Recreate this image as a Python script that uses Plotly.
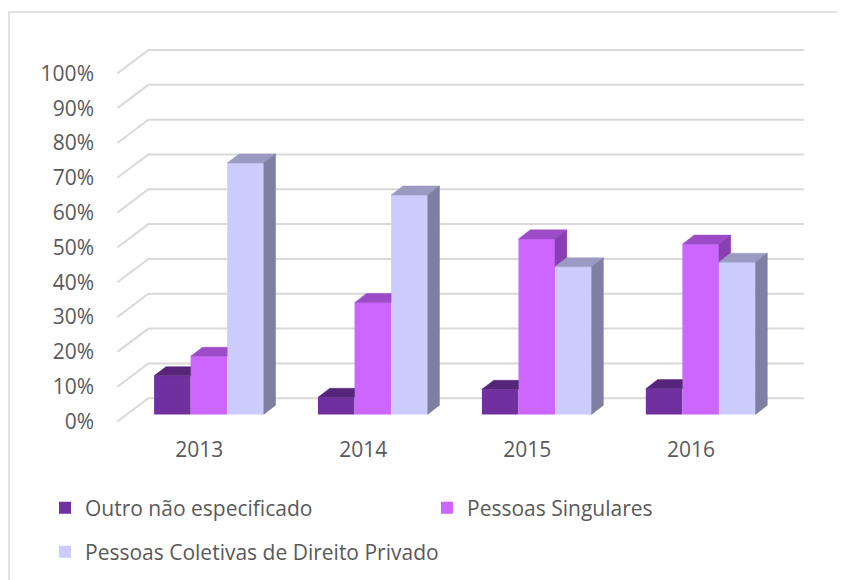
import plotly.graph_objects as go

years = ["2013", "2014", "2015", "2016"]
series_names = ["Outro não especificado", "Pessoas Singulares", "Pessoas Coletivas de Direito Privado"]
outro = [11.1, 4.9, 7.2, 7.4]
singulares = [16.7, 32.1, 50.4, 48.9]
coletivas = [72.2, 63.0, 42.4, 43.7]
y_ticks = [0, 10, 20, 30, 40, 50, 60, 70, 80, 90, 100]
y_ticktext = [f"{t}%" for t in y_ticks]

front_colors = ["#7030A0", "#CC66FF", "#CCCCFF"]
top_colors = ["#56247B", "#9C4CC6", "#9A9AC3"]
side_colors = ["#4C1F6D", "#8840B0", "#7F7FA3"]

# pseudo 3D geometry (x in category units, y in percent)
DX, DY = 0.189, 6.7           # depth of the floor / walls
BW = 0.223                    # bar width
BDX, BDY = 0.072, 2.6         # bar depth
OFFX, OFFY = (DX - BDX) / 2, (DY - BDY) / 2

values = [outro, singulares, coletivas]
n_cat = len(years)
xs = list(range(n_cat))

# the page body adds an 8px margin, so the figure is drawn 8px smaller
FW, FH = 837, 572
L, R, T, B = 93, 31, 34, 148
W_PLOT, H_PLOT = FW - L - R, FH - T - B

fig = go.Figure()

# front faces
legends = ["legend", "legend2", "legend3"]
for i, vals in enumerate(values):
    centers = [c + OFFX + (i - 1) * BW for c in xs]
    fig.add_trace(go.Bar(
        x=centers, y=vals, base=OFFY, width=BW,
        marker=dict(color=front_colors[i], line=dict(width=0)),
        name=series_names[i],
        legend=legends[i],
        hoverinfo="skip",
    ))

# tops and sides
for i, vals in enumerate(values):
    top_x, top_y, side_x, side_y = [], [], [], []
    for c in xs:
        h = vals[c]
        l = c + OFFX + (i - 1) * BW - BW / 2
        r = l + BW
        nxt = values[i + 1][c] if i + 1 < len(values) else None
        H = OFFY + h
        if nxt is not None and nxt > h:
            top_x += [l, r, r, l + BDX, l, None]
            top_y += [H, H, H + BDY, H + BDY, H, None]
        else:
            top_x += [l, r, r + BDX, l + BDX, l, None]
            top_y += [H, H, H + BDY, H + BDY, H, None]
        lo = OFFY + (nxt if nxt is not None else 0)
        if nxt is None or nxt < h:
            side_x += [r, r + BDX, r + BDX, r, r, None]
            side_y += [lo, lo + BDY, H + BDY, H, lo, None]
    for px, py, col in [(top_x, top_y, top_colors[i]), (side_x, side_y, side_colors[i])]:
        if not px:
            continue
        fig.add_trace(go.Scatter(
            x=px, y=py, mode="lines", fill="toself", fillcolor=col,
            line=dict(color=col, width=0.5), showlegend=False,
            hoverinfo="skip", cliponaxis=False,
        ))

# gridlines on back wall plus floor diagonals
shapes = []
x_left, x_right = -0.5, n_cat - 0.5
for t in y_ticks:
    shapes.append(dict(
        type="path", layer="below",
        path=f"M{x_left},{t} L{x_left + DX},{t + DY} L{x_right + DX},{t + DY}",
        line=dict(color="#D9D9D9", width=2),
        xref="x", yref="y",
    ))
# chart border
shapes.append(dict(
    type="rect", xref="paper", yref="paper",
    x0=(1 - L) / W_PLOT, x1=(860 - L) / W_PLOT,
    y0=(T + H_PLOT - 600) / H_PLOT, y1=(T + H_PLOT - 4) / H_PLOT,
    line=dict(color="#D9D9D9", width=1.5), fillcolor="rgba(0,0,0,0)", layer="below",
))

font = dict(family="Open Sans", size=21, color="#595959")


def legend_at(px, py):
    return dict(
        orientation="h", xref="container", yref="container",
        x=px / FW, y=(FH - py) / FH, xanchor="left", yanchor="middle",
        font=font, bgcolor="rgba(0,0,0,0)",
    )


fig.update_layout(
    width=FW, height=FH,
    margin=dict(l=L, r=R, t=T, b=B, autoexpand=False),
    paper_bgcolor="white", plot_bgcolor="white",
    barmode="overlay",
    font=font,
    shapes=shapes,
    xaxis=dict(
        range=[-0.6, 3.75], tickvals=xs, ticktext=years,
        showgrid=False, zeroline=False, showline=False, ticks="",
        tickfont=font, ticklabelstandoff=3, automargin=False,
    ),
    yaxis=dict(
        range=[-3, 109], tickvals=y_ticks, ticktext=y_ticktext,
        showgrid=False, zeroline=False, showline=False, ticks="",
        tickfont=font, ticklabelstandoff=6, automargin=False,
    ),
    legend=legend_at(37, 500),
    legend2=legend_at(419, 500),
    legend3=legend_at(37, 544),
    showlegend=True,
)

fig.write_html("out.html")
